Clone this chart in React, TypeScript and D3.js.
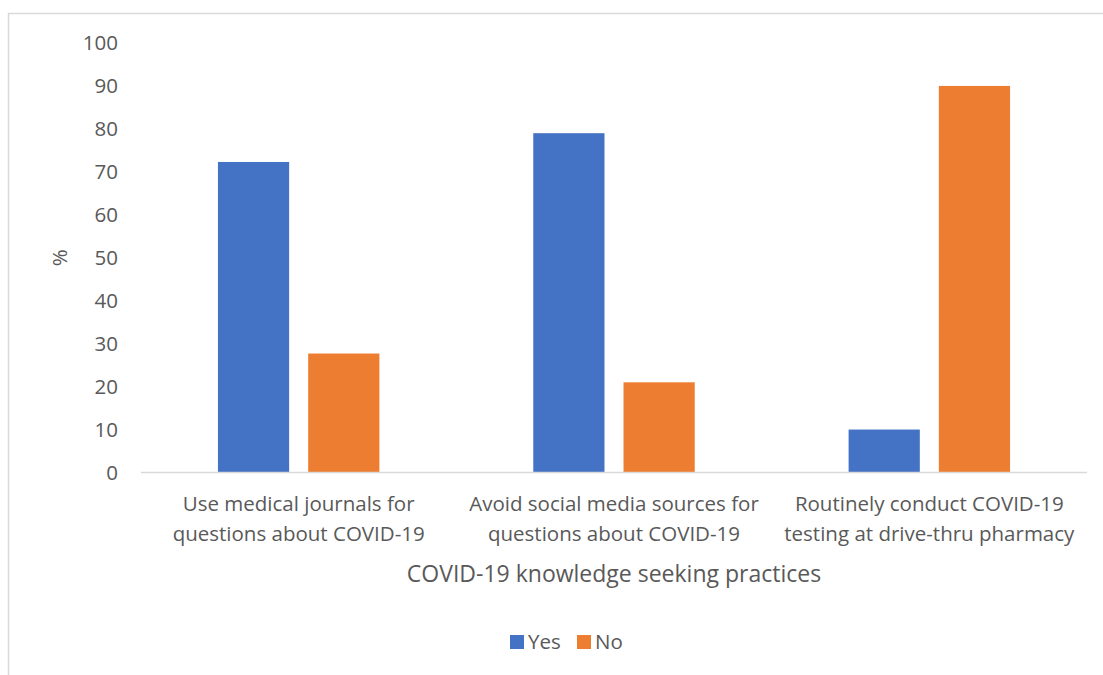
import React from "react";
import * as d3 from "d3";

const categories: string[][] = [
  ["Use medical journals for", "questions about COVID-19"],
  ["Avoid social media sources for", "questions about COVID-19"],
  ["Routinely conduct COVID-19", "testing at drive-thru pharmacy"],
];
const seriesNames = ["Yes", "No"];
const yesValues = [72.3, 79.0, 10.0];
const noValues = [27.7, 21.0, 90.0];
const colors = ["#4472C4", "#ED7D31"];
const yTicks = [0, 10, 20, 30, 40, 50, 60, 70, 80, 90, 100];
const xTitle = "COVID-19 knowledge seeking practices";
const yTitle = "%";

const W = 1103;
const H = 675;
const left = 141;
const right = 1087;
const top = 43;
const bottom = 472.5;
const FONT = "'Open Sans', sans-serif";
const TXT = "#595959";

export default function App() {
  const idx = categories.map((_, i) => i);
  const x0 = d3.scaleBand<number>().domain(idx).range([left, right]).paddingInner(0.488).paddingOuter(0.244);
  const x1 = d3.scaleBand<number>().domain([0, 1]).range([0, x0.bandwidth()]).paddingInner(0.211);
  const y = d3.scaleLinear().domain([0, 100]).range([bottom, top]);
  const series = [yesValues, noValues];
  const cx = (i: number) => (x0(i) as number) + x0.bandwidth() / 2;

  return (
    <svg width={W} height={H} style={{ position: "absolute", left: 0, top: 0 }} fontFamily={FONT}>
      <rect x={8.5} y={13.5} width={W + 20} height={H + 20} fill="#fff" stroke="#d9d9d9" strokeWidth={1.5} />
      {yTicks.map((t) => (
        <text key={t} x={118} y={y(t)} dy="0.36em" textAnchor="end" fontSize={20.5} fill={TXT}>
          {t}
        </text>
      ))}
      {series.map((vals, s) =>
        vals.map((v, i) => (
          <rect
            key={`${s}-${i}`}
            x={(x0(i) as number) + (x1(s) as number)}
            y={y(v)}
            width={x1.bandwidth()}
            height={y(0) - y(v)}
            fill={colors[s]}
          />
        ))
      )}
      <line x1={left} x2={right} y1={bottom} y2={bottom} stroke="#d9d9d9" strokeWidth={1.5} />
      {categories.map((lines, i) => (
        <text key={i} x={cx(i)} textAnchor="middle" fontSize={20.5} fill={TXT}>
          {lines.map((l, k) => (
            <tspan key={k} x={cx(i)} y={510.5 + k * 30}>
              {l}
            </tspan>
          ))}
        </text>
      ))}
      <text x={(left + right) / 2} y={582} textAnchor="middle" fontSize={23} fill={TXT}>
        {xTitle}
      </text>
      <text transform={`translate(67,${(top + bottom) / 2}) rotate(-90)`} textAnchor="middle" fontSize={20.5} fill={TXT}>
        {yTitle}
      </text>
      {seriesNames.map((n, s) => {
        const lx = [510, 577][s];
        return (
          <g key={n}>
            <rect x={lx} y={635} width={14} height={14} fill={colors[s]} />
            <text x={lx + 18} y={642} dy="0.36em" fontSize={20.5} fill={TXT}>
              {n}
            </text>
          </g>
        );
      })}
    </svg>
  );
}
